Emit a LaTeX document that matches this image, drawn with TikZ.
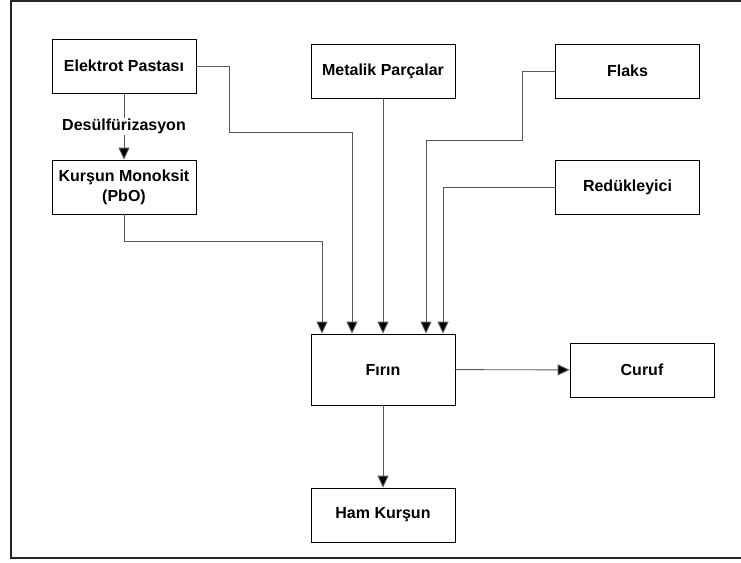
\documentclass[tikz,border=0pt]{standalone}
\usepackage{fontspec}
\setmainfont{Liberation Sans}
\usetikzlibrary{arrows.meta}

\begin{document}
\begin{tikzpicture}[x=1pt,y=-1pt,
    kutu/.style={draw,line width=0.8pt,rectangle,minimum width=144pt,minimum height=54pt,
      inner sep=0pt,align=center,font=\fontsize{16}{20}\selectfont\bfseries},
    ok/.style={draw=black!65,line width=0.9pt,-{Triangle[length=12pt,width=11pt,fill=black]}}]
    \useasboundingbox(0,0)rectangle(741,562);
    \draw[line width=1.6pt,black!85](760,1)--(11,1)--(11,558)--(760,558);
    \node[kutu](elek)at(124,66){Elektrot Pastası};
    \node[kutu](kursun)at(124,187){Kurşun Monoksit\\(PbO)};
    \node[kutu](metal)at(383,71){Metalik Parçalar};
    \node[kutu](flaks)at(627.5,71){Flaks};
    \node[kutu](reduk)at(627.5,187){Redükleyici};
    \node[kutu,minimum height=71pt](firin)at(383,369.5){Fırın};
    \node[kutu](curuf)at(642,370){Curuf};
    \node[kutu](ham)at(383,515){Ham Kurşun};
    \draw[ok](elek)--(kursun)node[midway,fill=white,inner sep=1pt,
      font=\fontsize{16}{18}\selectfont\bfseries]{Desülfürizasyon};
    \draw[ok](elek.east)--++(33,0)--++(0,66)-|([xshift=-31pt]firin.north);
    \draw[ok](kursun.south)--++(0,27)-|([xshift=-61pt]firin.north);
    \draw[ok](metal)--(firin);
    \draw[ok](flaks.west)--++(-33,0)--++(0,69)-|([xshift=43pt]firin.north);
    \draw[ok](reduk.west)-|([xshift=60pt]firin.north);
    \draw[ok](firin)--(curuf);
    \draw[ok](firin)--(ham);
  \end{tikzpicture}
\end{document}
